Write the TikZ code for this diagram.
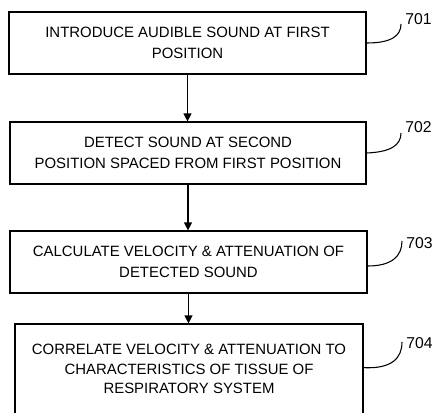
\documentclass[tikz,border=0pt]{standalone}
\usepackage{fontspec}
\setmainfont{Liberation Sans}
\usetikzlibrary{arrows.meta}

\begin{document}
\begin{tikzpicture}[x=0.75pt,y=-0.75pt,
  stepbox/.style={draw, line width=0.9pt, inner sep=0pt, align=center,
    font=\fontsize{11.2}{16.2}\selectfont},
  flowarrow/.style={line width=0.9pt, -{Triangle[length=6pt,width=6pt]}},
  leader/.style={line width=0.8pt},
  reflabel/.style={anchor=base west, inner sep=0pt, font=\fontsize{11.8}{14}\selectfont}]
  \useasboundingbox (0,0) rectangle (433,412);

  % steps of the method
  \node[stepbox, minimum width=267.75pt, minimum height=46.5pt] (s701) at (187.5,43)
    {INTRODUCE AUDIBLE SOUND AT FIRST\\POSITION};
  \node[stepbox, minimum width=267pt, minimum height=46.5pt] (s702) at (188,153)
    {DETECT SOUND AT SECOND\\POSITION SPACED FROM FIRST POSITION};
  \node[stepbox, minimum width=267.75pt, minimum height=46.5pt] (s703) at (188.5,262)
    {CALCULATE VELOCITY \& ATTENUATION OF\\DETECTED SOUND};
  \node[stepbox, minimum width=261pt, minimum height=67.5pt,
    font=\fontsize{11.2}{14.8}\selectfont] (s704) at (189,369)
    {CORRELATE VELOCITY \& ATTENUATION TO\\CHARACTERISTICS OF TISSUE OF\\RESPIRATORY SYSTEM};

  \draw[flowarrow] (s701.south) -- (s701.south |- s702.north);
  \draw[flowarrow] (s702.south) -- (s702.south |- s703.north);
  \draw[flowarrow] (s703.south) -- (s703.south |- s704.north);

  % reference numerals
  \coordinate (c701) at (401,24);
  \coordinate (c702) at (401,133);
  \coordinate (c703) at (402,241);
  \coordinate (c704) at (402,342);
  \node[reflabel] (l701) at (405,24) {701};
  \node[reflabel] (l702) at (405,132) {702};
  \node[reflabel] (l703) at (406,248) {703};
  \node[reflabel] (l704) at (406,348) {704};

  \draw[leader] (s701.east) .. controls (391,43) and (401,36) .. (c701);
  \draw[leader] (s702.east) .. controls (391,152) and (401,145) .. (c702);
  \draw[leader] ([yshift=-3pt]s703.east) .. controls (392,266) and (402,256) .. (c703);
  \draw[leader] ([yshift=1pt]s704.east) .. controls (392,369) and (402,358) .. (c704);
\end{tikzpicture}
\end{document}
